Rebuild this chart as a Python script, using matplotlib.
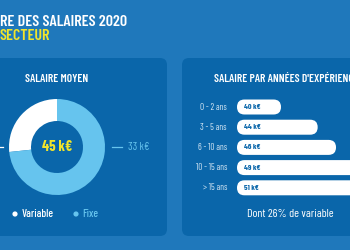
import matplotlib
matplotlib.use("Agg")
import matplotlib.pyplot as plt
from matplotlib.patches import FancyBboxPatch
from matplotlib.lines import Line2D

# ---- data ----
title_line1 = "RE DES SALAIRES 2020"
title_line2 = "SECTEUR"
donut_labels = ["Variable", "Fixe"]
donut_values = [12, 33]
total_label = "45 k€"
exp_categories = ["0 - 2 ans", "3 - 5 ans", "6 - 10 ans", "10 - 15 ans", "> 15 ans"]
exp_values = [40, 44, 46, 49, 51]
exp_value_labels = ["40 k€", "44 k€", "46 k€", "49 k€", "51 k€"]
variable_note = "Dont 26% de variable"

# ---- style ----
BG = "#1f78bb"
PANEL = "#0a66aa"
LIGHT = "#66c4ee"
YELLOW = "#f2e52a"
WHITE = "#ffffff"
FONT = ["Barlow Condensed", "DejaVu Sans"]
plt.rcParams["font.family"] = FONT

W, H = 350, 250
fig = plt.figure(figsize=(W / 100, H / 100), dpi=100, facecolor=BG)

# background axes in pixel coordinates
bg = fig.add_axes([0, 0, 1, 1])
bg.set_xlim(0, W)
bg.set_ylim(H, 0)
bg.axis("off")

def panel(x0, y0, x1, y1):
    p = FancyBboxPatch((x0, y0), x1 - x0, y1 - y0,
                       boxstyle="round,pad=0,rounding_size=7",
                       fc=PANEL, ec="none")
    bg.add_patch(p)

panel(-20, 58, 167, 236)
panel(182, 58, 380, 236)

# titles
bg.text(0, 21.5, title_line1, color=WHITE, fontsize=11.5, fontweight="semibold",
        ha="left", va="center")
bg.text(0, 36, title_line2, color=YELLOW, fontsize=11.5, fontweight="semibold",
        ha="left", va="center")

bg.text(57, 79, "SALAIRE MOYEN", color=WHITE, fontsize=8.3, fontweight="semibold",
        ha="center", va="center")
bg.text(214, 79, "SALAIRE PAR ANNÉES D'EXPÉRIENCE", color=WHITE, fontsize=8.3,
        fontweight="semibold", ha="left", va="center")

# donut
cx, cy, R = 57, 147, 48
dax = fig.add_axes([(cx - R) / W, 1 - (cy + R) / H, 2 * R / W, 2 * R / H])
dax.pie(donut_values, colors=[WHITE, LIGHT], startangle=90, counterclock=True,
        radius=1, wedgeprops=dict(width=22 / 48, edgecolor="none"))
dax.set_xlim(-1, 1)
dax.set_ylim(-1, 1)
dax.axis("off")
dax.text(0, 0, total_label, color=YELLOW, fontsize=10.5, fontweight="bold",
         ha="center", va="center")

# donut side labels
bg.add_line(Line2D([112, 122], [147, 147], color=LIGHT, lw=0.9))
bg.text(128, 147, f"{donut_values[1]} k€", color=LIGHT, fontsize=8,
        ha="left", va="center")
bg.add_line(Line2D([-10, 3], [147, 147], color=WHITE, lw=0.9))

# legend
bg.scatter([15], [214], s=14, color=WHITE, edgecolors="none")
bg.text(22, 214, donut_labels[0], color=WHITE, fontsize=8, fontweight="medium",
        ha="left", va="center")
bg.scatter([76], [214], s=14, color=LIGHT, edgecolors="none")
bg.text(82, 214, donut_labels[1], color=LIGHT, fontsize=8, fontweight="medium",
        ha="left", va="center")

# experience bars
ax_left_px, ax_right_px = 237, 350
ax_top_px, ax_bot_px = 95, 200
px_per_k = 9.17
x_min = 40 - (281 - ax_left_px) / px_per_k
x_max = x_min + (ax_right_px - ax_left_px) / px_per_k
row_px = 20.2
y_top = -(107 - ax_top_px) / row_px
y_bot = (ax_bot_px - 107) / row_px

bax = fig.add_axes([ax_left_px / W, 1 - ax_bot_px / H,
                    (ax_right_px - ax_left_px) / W, (ax_bot_px - ax_top_px) / H])
bax.set_xlim(x_min, x_max)
bax.set_ylim(y_bot, y_top)
bax.axis("off")
bar_h = 15 / row_px
r_px = 7.5
aspect = (1 / row_px) / (1 / px_per_k)
for i, (cat, v, lab) in enumerate(zip(exp_categories, exp_values, exp_value_labels)):
    p = FancyBboxPatch((x_min, i - bar_h / 2), v - x_min, bar_h,
                       boxstyle=f"round,pad=0,rounding_size={r_px / px_per_k}",
                       mutation_aspect=aspect, fc=WHITE, ec="none")
    bax.add_patch(p)
    bax.annotate(lab, xy=(0, i), xycoords=bax.get_yaxis_transform(),
                 xytext=(7, 0), textcoords="offset pixels",
                 color=PANEL, fontsize=5.8, fontweight="bold",
                 ha="left", va="center")
    bax.annotate(cat, xy=(0, i), xycoords=bax.get_yaxis_transform(),
                 xytext=(-10, 0), textcoords="offset pixels",
                 color="#d4e6f4", fontsize=6.5, ha="right", va="center",
                 annotation_clip=False)

bg.text(290, 214, variable_note, color=WHITE, fontsize=8.5, ha="center", va="center")

fig.savefig("out.png", dpi=100, facecolor=BG)
